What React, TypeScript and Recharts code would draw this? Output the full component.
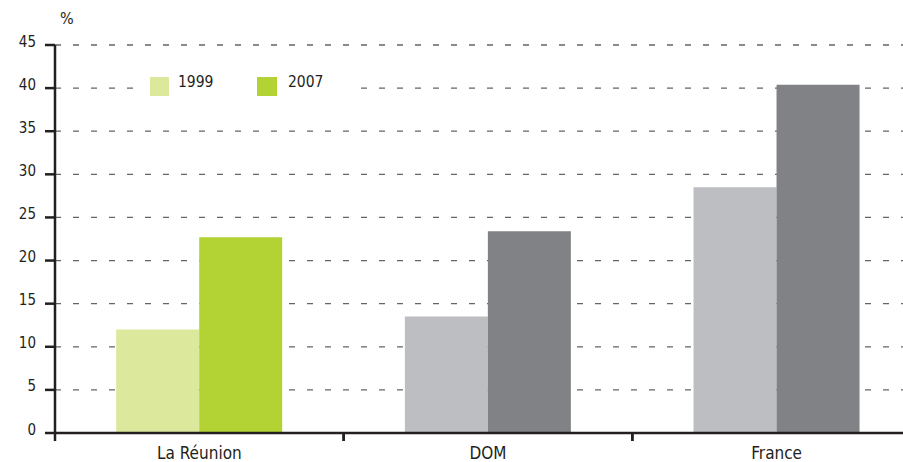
import React from 'react';
import { BarChart, Bar, XAxis, YAxis, CartesianGrid, Legend, Cell } from 'recharts';

const categories = ['La Réunion', 'DOM', 'France'];
const values1999 = [12.0, 13.5, 28.5];
const values2007 = [22.7, 23.4, 40.4];
const yTicks = [0, 5, 10, 15, 20, 25, 30, 35, 40, 45];
const seriesNames = ['1999', '2007'];

const colors1999 = ['#dce89b', '#bdbec2', '#bdbec2'];
const colors2007 = ['#b3d335', '#808285', '#808285'];

const FONT = '"Liberation Sans Narrow", "DejaVu Sans Condensed", "Liberation Sans", sans-serif';
const TEXT = '#231f20';

const data = categories.map((c, i) => ({ name: c, v1999: values1999[i], v2007: values2007[i] }));

const XTick = (props: any) => {
  const { x, y, payload } = props;
  const off = payload && typeof payload.offset === 'number' ? payload.offset : 0;
  return (
    <g>
      <line x1={x - off} x2={x - off} y1={y} y2={y + 8} stroke="#231f20" strokeWidth={2.5} />
      <line x1={x + off} x2={x + off} y1={y} y2={y + 8} stroke="#231f20" strokeWidth={2.5} />
      <text x={x} y={y + 26} textAnchor="middle" fill={TEXT} fontSize={17} fontFamily={FONT}>
        {payload.value}
      </text>
    </g>
  );
};

const YTick = (props: any) => {
  const { x, y, payload } = props;
  return (
    <text x={x} y={y} dy={1.5} textAnchor="end" fill={TEXT} fontSize={15} fontFamily={FONT}>
      {payload.value}
    </text>
  );
};

const textStyle: React.CSSProperties = {
  position: 'absolute',
  top: 3,
  fontFamily: FONT,
  fontSize: 15.5,
  lineHeight: '19px',
  color: TEXT,
  whiteSpace: 'nowrap',
};

const LegendContent = () => (
  <div style={{ position: 'relative', width: 218, height: 34, background: '#fff' }}>
    <div style={{ position: 'absolute', left: 13, top: 7, width: 19, height: 19, background: colors1999[0] }} />
    <span style={{ ...textStyle, left: 41 }}>{seriesNames[0]}</span>
    <div style={{ position: 'absolute', left: 120, top: 7, width: 20, height: 19, background: colors2007[0] }} />
    <span style={{ ...textStyle, left: 151 }}>{seriesNames[1]}</span>
  </div>
);

export default function App() {
  return (
    <div style={{ position: 'absolute', left: 0, top: 0, width: 903, height: 462, overflow: 'hidden', background: '#fff' }}>
      <div style={{ position: 'absolute', left: 60, top: 10, fontFamily: FONT, fontSize: 16, lineHeight: '18px', color: TEXT }}>%</div>
      <BarChart
        width={931}
        height={462}
        data={data}
        margin={{ top: 45, right: 10, bottom: 0, left: 0 }}
        barCategoryGap="21.2%"
        barGap={0}
      >
        <CartesianGrid horizontal vertical={false} stroke="#636466" strokeWidth={1.3} strokeDasharray="6 12" />
        <XAxis
          dataKey="name"
          height={29}
          axisLine={{ stroke: '#231f20', strokeWidth: 2.5 }}
          tickLine={false}
          tickSize={0}
          tickMargin={0}
          tick={<XTick />}
          interval={0}
        />
        <YAxis
          width={55}
          domain={[0, 45]}
          ticks={yTicks}
          interval={0}
          axisLine={{ stroke: '#231f20', strokeWidth: 2.5 }}
          tickLine={{ stroke: '#231f20', strokeWidth: 2.5 }}
          tickSize={10}
          tickMargin={9}
          tick={<YTick />}
        />
        <Legend
          layout="horizontal"
          verticalAlign="middle"
          align="center"
          content={<LegendContent />}
          wrapperStyle={{ position: 'absolute', left: 137, top: 70, width: 218, height: 34 }}
        />
        <Bar dataKey="v1999" name={seriesNames[0]} isAnimationActive={false}>
          {data.map((d, i) => (
            <Cell key={d.name} fill={colors1999[i]} />
          ))}
        </Bar>
        <Bar dataKey="v2007" name={seriesNames[1]} isAnimationActive={false}>
          {data.map((d, i) => (
            <Cell key={d.name} fill={colors2007[i]} />
          ))}
        </Bar>
      </BarChart>
    </div>
  );
}
